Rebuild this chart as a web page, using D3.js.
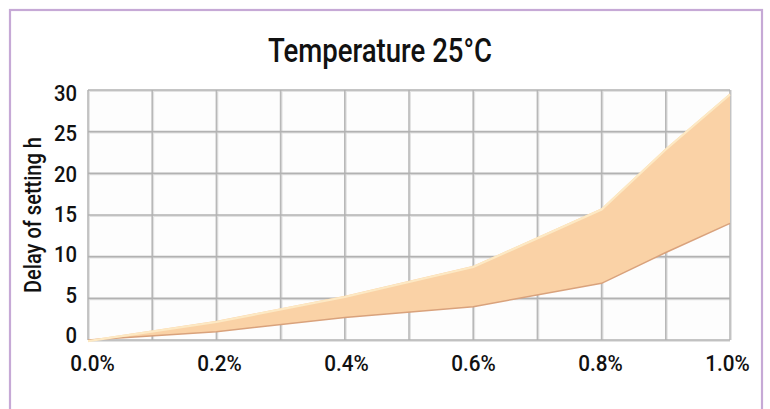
<!DOCTYPE html>
<html><head><meta charset="utf-8">
<script src="https://cdn.jsdelivr.net/npm/d3@7"></script>
<style>
html,body{margin:0;padding:0;background:#fff;}
svg{display:block;}
text{font-family:Roboto,"Liberation Sans",sans-serif;font-weight:500;fill:#111;}
</style></head>
<body>
<script>
const title = "Temperature 25°C";
const yTitle = "Delay of setting h";
const dosage = [0, 0.2, 0.4, 0.6, 0.8, 0.9, 1.0];
const upperDelay = [0, 2.3, 5.3, 8.9, 15.8, 23.0, 29.6];
const lowerDelay = [0, 1.0, 2.7, 4.0, 6.8, 10.5, 14.0];
const xTicks = [0, 0.2, 0.4, 0.6, 0.8, 1.0];
const xGrid = [0, 0.1, 0.2, 0.3, 0.4, 0.5, 0.6, 0.7, 0.8, 0.9, 1.0];
const yTicks = [0, 5, 10, 15, 20, 25, 30];

const W = 770, H = 409;
const svg = d3.select("body").append("svg").attr("width", W).attr("height", H);

// outer frame
svg.append("rect").attr("x", 10).attr("y", 10).attr("width", 752).attr("height", 410)
  .attr("fill", "#ffffff").attr("stroke", "#c6a9d6").attr("stroke-width", 2.2);

const x = d3.scaleLinear().domain([0, 1]).range([88, 730]);
const y = d3.scaleLinear().domain([0, 30]).range([340, 90]);
// label placement scales
const xl = d3.scaleLinear().domain([0, 1]).range([92.5, 727.5]);
const yl = d3.scaleLinear().domain([0, 30]).range([335, 93]);

// plot background
svg.append("rect").attr("x", x(0)).attr("y", y(30)).attr("width", x(1) - x(0)).attr("height", y(0) - y(30))
  .attr("fill", "#fdfdfd");

// grid (with soft shadow)
const g = svg.append("g");
g.selectAll("line.vs").data(xGrid).join("line").attr("class", "vs")
  .attr("x1", d => x(d) + 1.2).attr("x2", d => x(d) + 1.2).attr("y1", y(30)).attr("y2", y(0))
  .attr("stroke", "#e2e2e2").attr("stroke-width", 1.5);
g.selectAll("line.hs").data(yTicks).join("line").attr("class", "hs")
  .attr("x1", x(0)).attr("x2", x(1)).attr("y1", d => y(d) + 1.2).attr("y2", d => y(d) + 1.2)
  .attr("stroke", "#e2e2e2").attr("stroke-width", 1.5);
g.selectAll("line.v").data(xGrid).join("line").attr("class", "v")
  .attr("x1", d => x(d)).attr("x2", d => x(d)).attr("y1", y(30)).attr("y2", y(0))
  .attr("stroke", "#b8b8b8").attr("stroke-width", 1.6);
g.selectAll("line.h").data(yTicks).join("line").attr("class", "h")
  .attr("x1", x(0)).attr("x2", x(1)).attr("y1", d => y(d)).attr("y2", d => y(d))
  .attr("stroke", "#b2b2b2").attr("stroke-width", 1.6);

// area
const pts = dosage.map((d, i) => ({x: d, hi: upperDelay[i], lo: lowerDelay[i]}));
const area = d3.area().x(d => x(d.x)).y0(d => y(d.lo)).y1(d => y(d.hi));
svg.append("path").datum(pts).attr("d", area).attr("fill", "#fad2a6");
svg.append("path").datum(pts).attr("d", d3.line().x(d => x(d.x)).y(d => y(d.lo)))
  .attr("fill", "none").attr("stroke", "#d9a27c").attr("stroke-width", 1.5);
svg.append("path").datum(pts).attr("d", d3.line().x(d => x(d.x)).y(d => y(d.hi) + 1.2))
  .attr("fill", "none").attr("stroke", "#fde9c4").attr("stroke-width", 2.2);

function condense(sel, k) {
  sel.each(function() {
    const w = this.getComputedTextLength();
    d3.select(this).attr("textLength", w * k).attr("lengthAdjust", "spacingAndGlyphs");
  });
}

// title
svg.append("text").attr("x", 380).attr("y", 62).attr("text-anchor", "middle")
  .attr("font-size", 34).attr("textLength", 224).attr("lengthAdjust", "spacingAndGlyphs").text(title);

// y tick labels
svg.selectAll("text.yt").data(yTicks).join("text").attr("class", "yt")
  .attr("x", 77).attr("y", d => yl(d)).attr("dy", "0.36em").attr("text-anchor", "end")
  .attr("font-size", 22.5).text(d => d3.format("d")(d))
  .call(condense, 0.9);

// x tick labels
svg.selectAll("text.xt").data(xTicks).join("text").attr("class", "xt")
  .attr("x", d => xl(d)).attr("y", 370.5).attr("text-anchor", "middle")
  .attr("font-size", 22.5).text(d => d3.format(".1f")(d) + "%")
  .call(condense, 0.92);

// y title
svg.append("text").attr("transform", "translate(41,215) rotate(-90)")
  .attr("text-anchor", "middle").attr("font-size", 23)
  .attr("textLength", 156).attr("lengthAdjust", "spacingAndGlyphs").text(yTitle);
</script>
</body></html>
